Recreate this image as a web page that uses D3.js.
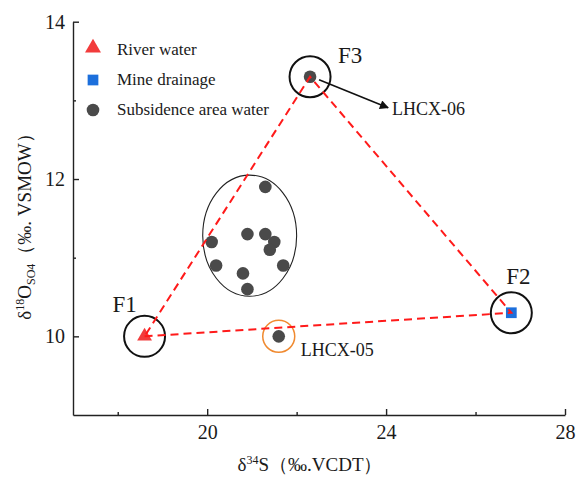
<html>
<head>
<meta charset="utf-8">
<script src="https://d3js.org/d3.v7.min.js"></script>
<style>
  body { margin: 0; background: #fff; }
</style>
</head>
<body>
<script>
// data (δ34S, δ18O)
var riverS = [18.6], riverO = [10.0];
var mineS = [26.8], mineO = [10.3];
var subS = [21.3, 20.9, 21.3, 21.5, 21.4, 20.1, 20.2, 21.7, 20.8, 20.9, 21.6, 22.3];
var subO = [11.9, 11.3, 11.3, 11.2, 11.1, 11.2, 10.9, 10.9, 10.8, 10.6, 10.0, 13.3];
var subNames = ["", "", "", "", "", "", "", "", "", "", "LHCX-05", "LHCX-06"];
var endNames = ["F1", "F2", "F3"];
var xTicks = [20, 24, 28], xMinor = [18, 22, 26];
var yTicks = [10, 12, 14], yMinor = [11, 13];
// cluster ellipse: centre and half-axes in data units
var ellC = [20.95, 11.28], ellR = [1.05, 0.77];

var FONT = "'Liberation Serif', 'DejaVu Serif', serif";

var width = 586, height = 477;
var svg = d3.select("body").append("svg")
  .attr("width", width)
  .attr("height", height);

var x = d3.scaleLinear().domain([17, 28]).range([73, 565]);
var y = d3.scaleLinear().domain([9, 14]).range([415, 21.7]);

// axes, ticks inward
svg.append("g").attr("transform", "translate(0,415)")
  .call(d3.axisBottom(x).tickValues(xTicks).tickSizeInner(-6).tickSizeOuter(0).tickPadding(10).tickFormat(d3.format("d")));
svg.append("g").attr("transform", "translate(0,415)")
  .call(d3.axisBottom(x).tickValues(xMinor).tickSizeInner(-3).tickSizeOuter(0).tickFormat(""))
  .select(".domain").remove();
svg.append("g").attr("transform", "translate(73,0)")
  .call(d3.axisLeft(y).tickValues(yTicks).tickSizeInner(-6).tickSizeOuter(0).tickPadding(8).tickFormat(d3.format("d")));
svg.append("g").attr("transform", "translate(73,0)")
  .call(d3.axisLeft(y).tickValues(yMinor).tickSizeInner(-3).tickSizeOuter(0).tickFormat(""))
  .select(".domain").remove();
svg.selectAll(".domain, .tick line").attr("stroke", "#222").attr("stroke-width", 1.4);
svg.selectAll(".tick text").attr("font-size", 20).attr("fill", "#1a1a1a");

// axis titles
var xt = svg.append("text").attr("x", 310).attr("y", 471).attr("text-anchor", "middle").attr("font-size", 19);
xt.append("tspan").text("δ");
xt.append("tspan").attr("dy", -7).attr("font-size", 12).text("34");
xt.append("tspan").attr("dy", 7).text("S（‰.VCDT）");

var yt = svg.append("text").attr("transform", "translate(31,222) rotate(-90)")
  .attr("text-anchor", "middle").attr("font-size", 19);
yt.append("tspan").text("δ");
yt.append("tspan").attr("dy", -7).attr("font-size", 12).text("18");
yt.append("tspan").attr("dy", 7).text("O");
yt.append("tspan").attr("dy", 4).attr("font-size", 12).text("SO4");
yt.append("tspan").attr("dy", -4).text("（‰. VSMOW）");

// cluster ellipse
svg.append("ellipse")
  .attr("cx", x(ellC[0])).attr("cy", y(ellC[1]))
  .attr("rx", x(ellC[0] + ellR[0]) - x(ellC[0]))
  .attr("ry", y(ellC[1]) - y(ellC[1] + ellR[1]))
  .attr("fill", "none").attr("stroke", "#222").attr("stroke-width", 1.1);

// end members F1 river, F2 mine, F3 LHCX-06
var ends = [[riverS[0], riverO[0]], [mineS[0], mineO[0]], [subS[11], subO[11]]];

svg.selectAll(".ring").data(ends).enter().append("circle")
  .attr("cx", d => x(d[0])).attr("cy", d => y(d[1])).attr("r", 20.5)
  .attr("fill", "none").attr("stroke", "#111").attr("stroke-width", 2);
svg.append("circle")
  .attr("cx", x(subS[10])).attr("cy", y(subO[10])).attr("r", 16)
  .attr("fill", "none").attr("stroke", "#f08a30").attr("stroke-width", 1.5);

// markers
var tri = d3.symbol().type(d3.symbolTriangle).size(95);
var sq = d3.symbol().type(d3.symbolSquare).size(115);
svg.selectAll(".sub").data(subS).enter().append("circle")
  .attr("cx", d => x(d)).attr("cy", (d, i) => y(subO[i])).attr("r", 6.3)
  .attr("fill", "#4a4a4a");
svg.selectAll(".riv").data(riverS).enter().append("path")
  .attr("d", tri).attr("transform", (d, i) => "translate(" + x(d) + "," + y(riverO[i]) + ")")
  .attr("fill", "#f23c3c");
svg.selectAll(".mine").data(mineS).enter().append("path")
  .attr("d", sq).attr("transform", (d, i) => "translate(" + x(d) + "," + y(mineO[i]) + ")")
  .attr("fill", "#1c6fdc");

// mixing triangle
svg.append("path")
  .attr("d", d3.line().x(d => x(d[0])).y(d => y(d[1]))(ends) + "Z")
  .attr("fill", "none").attr("stroke", "#ff1a1a").attr("stroke-width", 2)
  .attr("stroke-dasharray", "8,5");

// end-member labels
var endOff = [[-32, -24], [-5, -29], [28, -14]];
svg.selectAll(".endlab").data(ends).enter().append("text")
  .attr("x", (d, i) => x(d[0]) + endOff[i][0]).attr("y", (d, i) => y(d[1]) + endOff[i][1])
  .attr("font-size", 23).text((d, i) => endNames[i]);

// arrow to LHCX-06
svg.append("defs").append("marker").attr("id", "ah")
  .attr("viewBox", "0 0 10 10").attr("refX", 9).attr("refY", 5)
  .attr("markerWidth", 12).attr("markerHeight", 9).attr("markerUnits", "userSpaceOnUse")
  .attr("orient", "auto")
  .append("path").attr("d", "M0,0L10,5L0,10Z").attr("fill", "#111");
var f3x = x(subS[11]), f3y = y(subO[11]);
svg.append("line")
  .attr("x1", f3x + 9).attr("y1", f3y + 3).attr("x2", f3x + 78).attr("y2", f3y + 31)
  .attr("stroke", "#111").attr("stroke-width", 1.6).attr("marker-end", "url(#ah)");
svg.append("text").attr("x", f3x + 82).attr("y", f3y + 38)
  .attr("font-size", 18).text(subNames[11]);
svg.append("text").attr("x", x(subS[10]) + 22).attr("y", y(subO[10]) + 20)
  .attr("font-size", 18).text(subNames[10]);

// legend
var legNames = ["River water", "Mine drainage", "Subsidence area water"];
var leg = svg.append("g").attr("transform", "translate(93,0)");
leg.append("path").attr("d", d3.symbol().type(d3.symbolTriangle).size(110)).attr("transform", "translate(0,48)").attr("fill", "#f23c3c");
leg.append("path").attr("d", sq).attr("transform", "translate(0,80)").attr("fill", "#1c6fdc");
leg.append("circle").attr("cx", 0).attr("cy", 110).attr("r", 6.3).attr("fill", "#4a4a4a");
leg.selectAll(".lt").data(legNames).enter().append("text")
  .attr("x", 24).attr("y", (d, i) => 55 + i * 30)
  .attr("font-size", 17).text(d => d);

// one font for every text
svg.selectAll("g").attr("font-family", null);
svg.selectAll("text").style("font-family", FONT).attr("fill", "#1a1a1a");
</script>
</body>
</html>
